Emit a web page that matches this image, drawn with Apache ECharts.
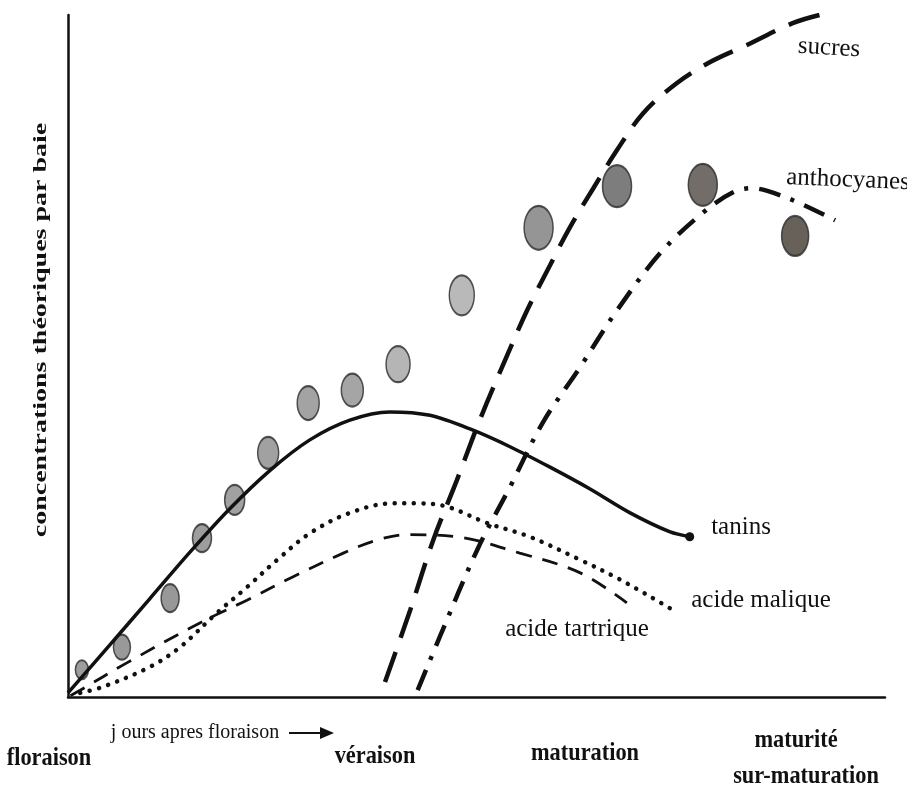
<!DOCTYPE html>
<html><head><meta charset="utf-8">
<script src="https://cdn.jsdelivr.net/npm/echarts@6/dist/echarts.min.js"></script>
<style>html,body{margin:0;padding:0;background:#fff}#c{width:907px;height:789px}</style>
</head><body><div id="c"></div>
<script>
// x: time after flowering (0-100), y: theoretical concentration per berry (0-100)
const tanins = [[0,0.6],[5.1,7.6],[10.0,14.4],[14.9,21.2],[19.8,27.6],[24.7,33.2],[29.6,37.7],[34.5,40.6],[39.4,41.8],[44.3,41.3],[49.2,39.3],[54.1,36.7],[59.0,33.7],[63.9,30.5],[68.8,27.0],[73.7,24.2],[76.1,23.5]];
const acideMalique = [[1.5,0.6],[4.3,1.5],[10.0,4.4],[13.7,7.3],[18.2,12.3],[21.9,16.1],[25.6,20.1],[29.6,24.0],[34.5,27.0],[39.8,28.4],[42.7,28.4],[46.4,27.9],[51.3,25.5],[56.5,23.5],[62.7,20.1],[67.6,17.2],[73.7,13.0]];
const acideTartrique = [[0.3,0.2],[1.5,1.0],[7.2,5.0],[16.2,10.9],[21.9,14.2],[27.5,17.6],[33.7,21.1],[37.8,23.0],[41.5,23.8],[47.6,23.5],[55.3,21.1],[62.7,18.2],[68.4,13.8]];
const sucres = [[38.8,2.2],[41.9,12.8],[44.7,23.0],[47.6,31.8],[50.4,40.6],[53.5,49.4],[56.2,56.7],[59.0,63.3],[61.4,68.8],[64.3,74.6],[67.2,80.2],[70.4,85.6],[74.5,90.0],[78.6,93.1],[83.1,95.6],[88.7,98.8],[92.0,100]];
const anthocyanes = [[42.8,1.0],[45.5,8.8],[50.1,21.6],[54.1,30.8],[58.1,40.2],[62.7,48.4],[67.2,56.7],[72.5,65.1],[77.7,71.0],[81.4,74.0],[83.7,74.6],[85.6,74.2],[89.2,72.6],[93.9,69.9]];
const baies = [[1.7,4.0],[6.6,7.3],[12.5,14.5],[16.4,23.3],[20.4,28.9],[24.5,35.8],[29.4,43.1],[34.8,45.0],[40.4,48.8],[48.2,58.9],[57.6,68.8],[67.2,74.9],[77.7,75.1],[89.0,67.6]];
const baieTailles = [[13,19],[17,25],[18,28],[19,28],[20,30],[21,32],[22,34],[22,33],[24,36],[25,40],[29,44],[29,42],[29,42],[27,40]];
const baieCouleurs = ['#858585','#808080','#7e7e7e','#858585','#8a8a8a','#8a8a8a','#8c8c8c','#8e8e8e','#a2a2a2','#a8a8a8','#7a7a7a','#5c5c5c','#4f4943','#413a2f'];
const etapes = ['floraison','véraison','maturation','maturité','sur-maturation'];
const nomsSeries = ['sucres','anthocyanes','tanins','acide malique','acide tartrique'];
const titreY = 'concentrations théoriques par baie';
const titreX = 'j ours apres floraison';

const chart = echarts.init(document.getElementById('c'));
const lineBase = {type:'line', symbol:'none', smooth:0.35, z:3, silent:true};
const serif = '"Liberation Serif","Times New Roman",serif';
function txt(x,y,text,font,extra){return Object.assign({type:'text',x:x,y:y,style:{text:text,fill:'#111',font:font,align:'center',verticalAlign:'middle'}},extra||{});}
const bold = 'bold 26px '+serif, lab = '25px '+serif;

chart.setOption({
  animation:false,
  backgroundColor:'#fff',
  grid:{left:68,right:22,top:15,bottom:92},
  xAxis:{type:'value',min:0,max:100,axisLine:{show:true,lineStyle:{color:'#111',width:2.5}},axisTick:{show:false},axisLabel:{show:false},splitLine:{show:false}},
  yAxis:{type:'value',min:0,max:100,axisLine:{show:true,lineStyle:{color:'#111',width:2.5}},axisTick:{show:false},axisLabel:{show:false},splitLine:{show:false}},
  series:[
    Object.assign({},lineBase,{name:nomsSeries[0],data:sucres,lineStyle:{color:'#111',width:4.5,type:[32,15]}}),
    Object.assign({},lineBase,{name:nomsSeries[1],data:anthocyanes,lineStyle:{color:'#111',width:4.5,type:[22,11,4,11]}}),
    Object.assign({},lineBase,{name:nomsSeries[2],smooth:0.3,data:tanins.map((p,i)=>i===tanins.length-1?{value:p,symbol:'circle',symbolSize:9}:p),showSymbol:true,itemStyle:{color:'#111'},lineStyle:{color:'#111',width:3.5}}),
    Object.assign({},lineBase,{name:nomsSeries[3],data:acideMalique,lineStyle:{color:'#111',width:4.5,type:[0.1,9.5],cap:'round'}}),
    Object.assign({},lineBase,{name:nomsSeries[4],data:acideTartrique,lineStyle:{color:'#111',width:2.8,type:[16,11]}}),
    {type:'scatter',z:2,silent:true,data:baies.map((p,i)=>({value:p,symbolSize:baieTailles[i],itemStyle:{color:baieCouleurs[i]}})),symbol:'circle',itemStyle:{borderColor:'#2a2a2a',borderWidth:1.8}}
  ],
  graphic:[
    txt(41,330,titreY,'bold 28px '+serif,{rotation:Math.PI/2,scaleY:0.68}),
    txt(49,758,etapes[0],bold,{scaleX:0.86}),
    txt(375,756,etapes[1],bold,{scaleX:0.86}),
    txt(585,753,etapes[2],bold,{scaleX:0.86}),
    txt(796,740,etapes[3],bold,{scaleX:0.86}),
    txt(806,776,etapes[4],bold,{scaleX:0.86}),
    txt(195,733,titreX,'20px '+serif),
    {type:'line',shape:{x1:289,y1:733,x2:322,y2:733},style:{stroke:'#111',lineWidth:2}},
    {type:'polygon',shape:{points:[[334,733],[320,727],[320,739]]},style:{fill:'#111'}},
    txt(829,48,nomsSeries[0],lab,{rotation:-0.06}),
    txt(848,180,nomsSeries[1],lab,{rotation:-0.04}),
    txt(741,527,nomsSeries[2],lab),
    txt(761,600,nomsSeries[3],lab),
    txt(577,629,nomsSeries[4],lab)
  ]
});
</script></body></html>
